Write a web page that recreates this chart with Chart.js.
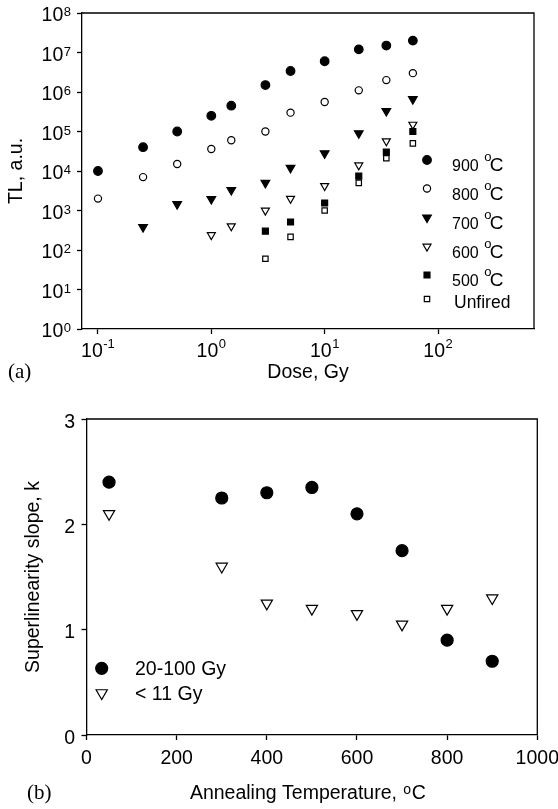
<!DOCTYPE html>
<html>
<head>
<meta charset="utf-8">
<script src="https://cdn.jsdelivr.net/npm/chart.js@4.4.0/dist/chart.umd.min.js"></script>
<style>
    body { margin: 0; background: #fff; width: 558px; height: 809px; overflow: hidden; position: relative; }
    canvas { display: block; position: absolute; left: 0; }
    #graficoA { top: 0; }
    #graficoB { top: 400px; }
</style>
</head>
<body>
<canvas id="graficoA" width="558" height="400"></canvas>
<canvas id="graficoB" width="558" height="409"></canvas>
<script>
// ---- dados (a): TL vs dose ----
var doses = [0.1, 0.25, 0.5, 1, 1.5, 3, 5, 10, 20, 35, 60];
var tl900 = [1e4, 4e4, 1e5, 2.5e5, 4.5e5, 1.5e6, 3.4e6, 6e6, 1.2e7, 1.5e7, 2e7];
var tl800 = [2000, 7000, 1.5e4, 3.6e4, 6e4, 1e5, 3e5, 5.6e5, 1.1e6, 2e6, 3e6];
var tl700 = [null, 380, 1450, 1950, 3300, 5000, 1.2e4, 2.8e4, 9e4, 3.3e5, 6.6e5];
var tl600 = [null, null, null, 240, 400, 1000, 2000, 4200, 1.4e4, 5.7e4, 1.5e5];
var tl500 = [null, null, null, null, null, 300, 510, 1550, 7400, 3e4, 1e5];
var tlUnfired = [null, null, null, null, null, 60, 215, 1000, 5000, 2.1e4, 5e4];
var seriesA = ['900', '800', '700', '600', '500', 'Unfired'];
var doseTicks = [0.1, 1, 10, 100];
var tlTicks = [1, 10, 100, 1e3, 1e4, 1e5, 1e6, 1e7, 1e8];

// ---- dados (b): slope vs temperatura ----
var temps = [50, 300, 400, 500, 600, 700, 800, 900];
var slopeHigh = [2.4, 2.25, 2.3, 2.35, 2.1, 1.75, 0.9, 0.7];
var slopeLow = [2.1, 1.6, 1.25, 1.2, 1.15, 1.05, 1.2, 1.3];
var seriesB = ['20-100 Gy', '< 11 Gy'];
var tempTicks = [0, 200, 400, 600, 800, 1000];
var slopeTicks = [0, 1, 2, 3];

var SANS = "'Liberation Sans', Arial, sans-serif";
var SERIF = "'Liberation Serif', 'Times New Roman', serif";

function pts(xs, ys) {
    var out = [];
    for (var i = 0; i < xs.length; i++) {
        if (ys[i] !== null) out.push({ x: xs[i], y: ys[i] });
    }
    return out;
}

function serie(label, data, style, radius, filled, rot) {
    return {
        label: label,
        data: data,
        pointStyle: style,
        pointRadius: radius,
        pointRotation: rot || 0,
        pointBorderWidth: 1.2,
        pointBorderColor: '#000',
        pointBackgroundColor: filled ? '#000' : '#fff',
        showLine: false
    };
}

function eixo(extra) {
    var base = {
        ticks: { display: false },
        grid: { drawOnChartArea: false, drawTicks: true, tickLength: 5, color: '#000', tickColor: '#000', tickWidth: 1.3 },
        border: { display: true, color: '#000', width: 1.3 },
        title: { display: false }
    };
    for (var k in extra) base[k] = extra[k];
    return base;
}

function marcador(ctx, ds, x, y) {
    ctx.save();
    ctx.fillStyle = ds.pointBackgroundColor;
    ctx.strokeStyle = ds.pointBorderColor;
    ctx.lineWidth = ds.pointBorderWidth;
    Chart.helpers.drawPoint(ctx, {
        pointStyle: ds.pointStyle,
        rotation: ds.pointRotation,
        radius: ds.pointRadius,
        borderWidth: ds.pointBorderWidth
    }, x, y);
    ctx.restore();
}

function moldura(ctx, area) {
    ctx.save();
    ctx.strokeStyle = '#000';
    ctx.lineWidth = 1.3;
    ctx.beginPath();
    ctx.moveTo(area.left, area.top);
    ctx.lineTo(area.right, area.top);
    ctx.lineTo(area.right, area.bottom);
    ctx.stroke();
    ctx.restore();
}

// texto "900 oC" com o sobrescrito
function textoGrau(ctx, x, y, num, fNum, fSup, fC) {
    ctx.font = fNum;
    ctx.fillText(num, x, y);
    x += ctx.measureText(num + ' ').width + 1;
    ctx.font = fSup;
    ctx.fillText('o', x, y - 10);
    x += ctx.measureText('o').width - 1.5;
    ctx.font = fC;
    ctx.fillText('C', x, y);
}

// ---- grafico (a) ----
var pluginA = {
    id: 'extrasA',
    beforeDatasetsDraw: function(chart) {
        moldura(chart.ctx, chart.chartArea);
    },
    afterDraw: function(chart) {
        var ctx = chart.ctx, a = chart.chartArea;
        var sx = chart.scales.x, sy = chart.scales.y;
        ctx.save();
        ctx.fillStyle = '#000';
        ctx.textAlign = 'left';
        ctx.textBaseline = 'alphabetic';

        // rotulos eixo y: 10^n
        tlTicks.forEach(function(v) {
            var y = sy.getPixelForValue(v);
            var e = String(Math.round(Math.log10(v)));
            ctx.font = '13px ' + SANS;
            var wSup = ctx.measureText(e).width;
            ctx.font = '19.5px ' + SANS;
            var wBase = ctx.measureText('10').width;
            var xEnd = a.left - 11;
            ctx.fillText('10', xEnd - wSup - wBase - 0.5, y + 8);
            ctx.font = '13px ' + SANS;
            ctx.fillText(e, xEnd - wSup, y + 3);
        });

        // rotulos eixo x: 10^n
        doseTicks.forEach(function(v) {
            var x = sx.getPixelForValue(v);
            var e = String(Math.round(Math.log10(v)));
            ctx.font = '13px ' + SANS;
            var wSup = ctx.measureText(e).width;
            ctx.font = '19.5px ' + SANS;
            var wBase = ctx.measureText('10').width;
            var x0 = x - (wBase + wSup + 0.5) / 2;
            ctx.fillText('10', x0, a.bottom + 28);
            ctx.font = '13px ' + SANS;
            ctx.fillText(e, x0 + wBase + 0.5, a.bottom + 19);
        });

        // titulos
        ctx.font = '19.5px ' + SANS;
        ctx.textAlign = 'center';
        ctx.fillText('Dose, Gy', (a.left + a.right) / 2, 378);
        ctx.save();
        ctx.translate(22, (a.top + a.bottom) / 2);
        ctx.rotate(-Math.PI / 2);
        ctx.fillText('TL, a.u.', 0, 0);
        ctx.restore();
        ctx.textAlign = 'left';
        ctx.font = '21px ' + SERIF;
        ctx.fillText('(a)', 8, 378);

        // legenda
        var linhas = [160, 188.5, 217.5, 246.5, 275, 299];
        chart.data.datasets.forEach(function(ds, i) {
            var y = linhas[i];
            marcador(ctx, ds, 427, y);
            ctx.fillStyle = '#000';
            if (ds.label === 'Unfired') {
                ctx.font = '17.5px ' + SANS;
                ctx.fillText(ds.label, 454, y + 9);
            } else {
                textoGrau(ctx, 452, y + 11, ds.label, '16px ' + SANS, '13px ' + SANS, '19px ' + SANS);
            }
        });
        ctx.restore();
    }
};

new Chart(document.getElementById('graficoA').getContext('2d'), {
    type: 'scatter',
    data: {
        datasets: [
            serie(seriesA[0], pts(doses, tl900), 'circle', 4.3, true),
            serie(seriesA[1], pts(doses, tl800), 'circle', 3.6, false),
            serie(seriesA[2], pts(doses, tl700), 'triangle', 5, true, 180),
            serie(seriesA[3], pts(doses, tl600), 'triangle', 4.6, false, 180),
            serie(seriesA[4], pts(doses, tl500), 'rect', 4.2, true),
            serie(seriesA[5], pts(doses, tlUnfired), 'rect', 3.8, false)
        ]
    },
    options: {
        responsive: false,
        animation: false,
        layout: { padding: { left: 77, right: 24, top: 13, bottom: 66 } },
        plugins: { legend: { display: false }, tooltip: { enabled: false } },
        scales: {
            x: eixo({
                type: 'logarithmic', min: 0.0723, max: 703,
                afterBuildTicks: function(s) { s.ticks = doseTicks.map(function(v) { return { value: v }; }); }
            }),
            y: eixo({
                type: 'logarithmic', min: 1, max: 1e8,
                afterBuildTicks: function(s) { s.ticks = tlTicks.map(function(v) { return { value: v }; }); }
            })
        }
    },
    plugins: [pluginA]
});

// ---- grafico (b) ----
var pluginB = {
    id: 'extrasB',
    beforeDatasetsDraw: function(chart) {
        moldura(chart.ctx, chart.chartArea);
    },
    afterDraw: function(chart) {
        var ctx = chart.ctx, a = chart.chartArea;
        var sx = chart.scales.x, sy = chart.scales.y;
        ctx.save();
        ctx.fillStyle = '#000';
        ctx.font = '19.5px ' + SANS;
        ctx.textBaseline = 'alphabetic';

        ctx.textAlign = 'right';
        slopeTicks.forEach(function(v) {
            ctx.fillText(String(v), a.left - 11.5, sy.getPixelForValue(v) + 8.5);
        });
        ctx.textAlign = 'center';
        tempTicks.forEach(function(v) {
            ctx.fillText(String(v), sx.getPixelForValue(v), a.bottom + 29);
        });

        // titulo eixo y
        ctx.save();
        ctx.translate(39, (a.top + a.bottom) / 2);
        ctx.rotate(-Math.PI / 2);
        ctx.fillText('Superlinearity slope, k', 0, 0);
        ctx.restore();

        // titulo eixo x com oC
        ctx.textAlign = 'left';
        var t = 'Annealing Temperature,';
        var x = (a.left + a.right) / 2 - 122;
        ctx.fillText(t, x, 399);
        x += ctx.measureText(t + ' ').width + 1;
        ctx.font = '14px ' + SANS;
        ctx.fillText('o', x, 394);
        x += ctx.measureText('o').width + 0.5;
        ctx.font = '19.5px ' + SANS;
        ctx.fillText('C', x, 399);

        ctx.font = '21px ' + SERIF;
        ctx.fillText('(b)', 27, 399);

        // legenda
        var linhas = [268.3, 293];
        chart.data.datasets.forEach(function(ds, i) {
            marcador(ctx, ds, 101.7, linhas[i]);
            ctx.fillStyle = '#000';
            ctx.font = '19.5px ' + SANS;
            ctx.fillText(ds.label, 135, linhas[i] + 7);
        });
        ctx.restore();
    }
};

new Chart(document.getElementById('graficoB').getContext('2d'), {
    type: 'scatter',
    data: {
        datasets: [
            serie(seriesB[0], pts(temps, slopeHigh), 'circle', 6, true),
            serie(seriesB[1], pts(temps, slopeLow), 'triangle', 6.5, false, 180)
        ]
    },
    options: {
        responsive: false,
        animation: false,
        layout: { padding: { left: 81.5, right: 20.7, top: 19, bottom: 69 } },
        plugins: { legend: { display: false }, tooltip: { enabled: false } },
        scales: {
            x: eixo({
                type: 'linear', min: 0, max: 1000,
                afterBuildTicks: function(s) { s.ticks = tempTicks.map(function(v) { return { value: v }; }); }
            }),
            y: eixo({
                type: 'linear', min: 0, max: 3,
                afterBuildTicks: function(s) { s.ticks = slopeTicks.map(function(v) { return { value: v }; }); }
            })
        }
    },
    plugins: [pluginB]
});
</script>
</body>
</html>
